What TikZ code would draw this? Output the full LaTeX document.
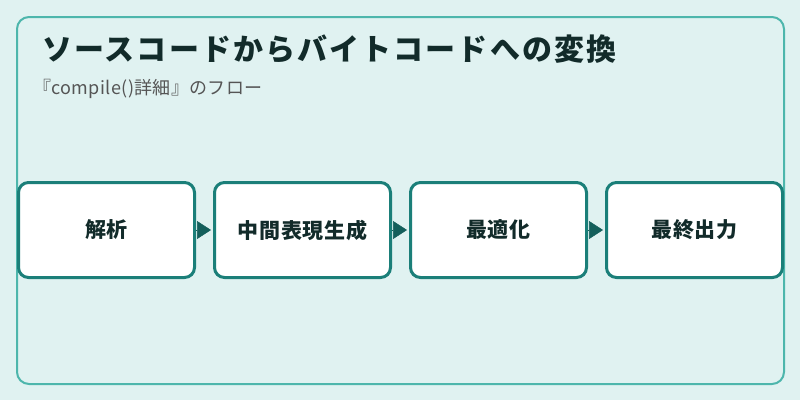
\documentclass[tikz,border=0pt]{standalone}
\usepackage{fontspec}
\setmainfont{Noto Sans CJK JP}
\usetikzlibrary{arrows.meta, positioning}

\definecolor{bgteal}{HTML}{E0F2F1}
\definecolor{frameteal}{HTML}{4DB6AC}
\definecolor{boxteal}{HTML}{1B7F79}
\definecolor{arrowteal}{HTML}{145F5B}
\definecolor{titleink}{HTML}{122B2A}
\definecolor{subink}{HTML}{555555}

\begin{document}
\begin{tikzpicture}[x=1pt, y=-1pt, node distance=17pt,
	stepbox/.style={rounded corners=10pt, fill=white, draw=boxteal, line width=3pt, minimum width=176pt, minimum height=95pt, inner sep=0pt, font=\fontsize{21}{25}\selectfont\bfseries\addfontfeature{LetterSpace=3}, text=titleink},
	flow/.style={-{Triangle[length=14pt, width=18pt]}, draw=arrowteal, fill=arrowteal, line width=0.5pt, shorten >=2pt}]
	% canvas and frame
	\fill[bgteal] (0,0) rectangle (800,400);
	\useasboundingbox (0,0) rectangle (800,400);
	\draw[frameteal, line width=2pt, rounded corners=12pt] (17,17) rectangle (784,384);
	% headings
	\node (Title)		[anchor=west, inner sep=0pt, text=titleink, font=\fontsize{30}{36}\selectfont\bfseries\addfontfeature{LetterSpace=7}] at (42,49) {ソースコードからバイトコードへの変換};
	\node (Subtitle)	[anchor=west, inner sep=0pt, text=subink, font=\fontsize{18}{22}\selectfont\addfontfeature{LetterSpace=2}] at (33,89) {『compile()詳細』のフロー};
	% Specification of nodes (position, etc.)
	\node (Parse)		[stepbox] at (106.5,230)		{解析};
	\node (IRGen)		[stepbox, right=of Parse]		{中間表現生成};
	\node (Optimize)	[stepbox, right=of IRGen]		{最適化};
	\node (Output)		[stepbox, right=of Optimize]	{最終出力};
	\draw[flow]	(Parse) -- (IRGen);
	\draw[flow]	(IRGen) -- (Optimize);
	\draw[flow]	(Optimize) -- (Output);
\end{tikzpicture}
\end{document}
